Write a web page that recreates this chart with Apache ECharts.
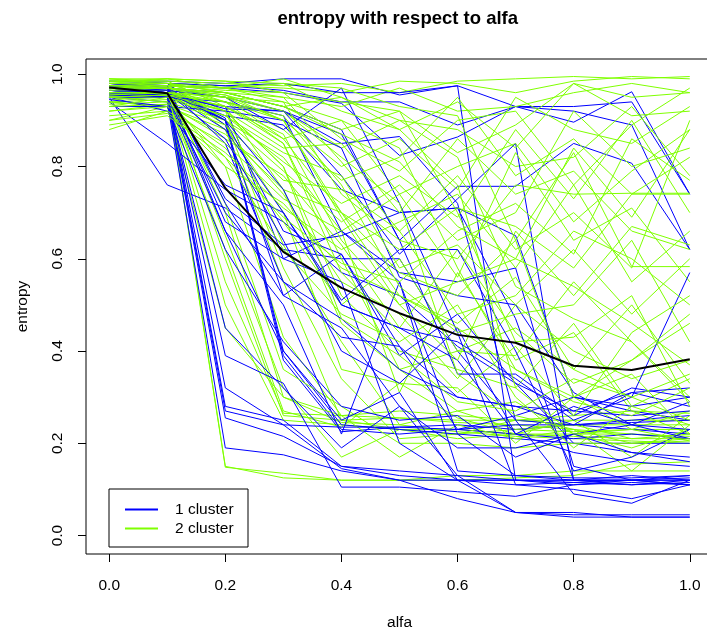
<!DOCTYPE html>
<html>
<head>
<meta charset="utf-8">
<script src="https://cdn.jsdelivr.net/npm/echarts@6/dist/echarts.min.js"></script>
<style>
html,body{margin:0;padding:0;background:#fff;}
#chart{width:707px;height:630px;}
</style>
</head>
<body>
<div id="chart"></div>
<script>
// ---- data ----
const alfa = [0.0, 0.1, 0.2, 0.3, 0.4, 0.5, 0.6, 0.7, 0.8, 0.9, 1.0];
const xTicks = [0, 0.2, 0.4, 0.6, 0.8, 1.0];
const yTicks = [0, 0.2, 0.4, 0.6, 0.8, 1.0];
const titleText = "entropy with respect to alfa";
const xName = "alfa";
const yName = "entropy";
const legendNames = ["1 cluster", "2 cluster"];

// entropy curves, cluster 1 (blue)
const cluster1 = [
  [0.985,0.985,0.98,0.99,0.99,0.955,0.975,0.93,0.93,0.94,0.74],
  [0.975,0.98,0.975,0.965,0.94,0.94,0.89,0.93,0.92,0.89,0.62],
  [0.97,0.975,0.97,0.96,0.937,0.824,0.864,0.93,0.896,0.962,0.74],
  [0.96,0.97,0.96,0.93,0.88,0.64,0.757,0.757,0.85,0.807,0.62],
  [0.97,0.96,0.91,0.89,0.75,0.70,0.71,0.65,0.30,0.27,0.25],
  [0.96,0.95,0.93,0.60,0.66,0.57,0.55,0.58,0.15,0.12,0.11],
  [0.95,0.76,0.71,0.62,0.60,0.60,0.40,0.25,0.24,0.23,0.22],
  [0.94,0.85,0.75,0.68,0.57,0.52,0.41,0.33,0.20,0.18,0.16],
  [0.98,0.97,0.905,0.39,0.23,0.22,0.23,0.22,0.21,0.22,0.21],
  [0.975,0.97,0.90,0.38,0.225,0.235,0.24,0.23,0.24,0.25,0.26],
  [0.97,0.965,0.90,0.40,0.24,0.23,0.22,0.21,0.20,0.20,0.20],
  [0.97,0.96,0.32,0.24,0.145,0.12,0.12,0.11,0.115,0.12,0.12],
  [0.96,0.96,0.28,0.25,0.15,0.14,0.13,0.12,0.12,0.12,0.13],
  [0.965,0.955,0.27,0.24,0.235,0.235,0.23,0.24,0.24,0.245,0.25],
  [0.955,0.95,0.255,0.215,0.15,0.13,0.12,0.12,0.115,0.11,0.115],
  [0.95,0.94,0.19,0.175,0.14,0.12,0.08,0.05,0.045,0.045,0.045],
  [0.96,0.955,0.39,0.33,0.105,0.105,0.095,0.085,0.11,0.12,0.125],
  [0.975,0.97,0.66,0.50,0.22,0.55,0.22,0.13,0.12,0.13,0.12],
  [0.97,0.965,0.68,0.60,0.55,0.20,0.12,0.12,0.12,0.12,0.11],
  [0.96,0.95,0.66,0.40,0.25,0.31,0.12,0.05,0.04,0.04,0.04],
  [0.98,0.975,0.72,0.52,0.45,0.28,0.13,0.05,0.05,0.04,0.04],
  [0.985,0.98,0.89,0.52,0.61,0.41,0.30,0.28,0.24,0.31,0.32],
  [0.975,0.97,0.85,0.55,0.43,0.41,0.23,0.26,0.30,0.28,0.30],
  [0.97,0.96,0.90,0.66,0.61,0.39,0.48,0.33,0.27,0.31,0.28],
  [0.965,0.96,0.88,0.70,0.50,0.45,0.38,0.22,0.28,0.24,0.21],
  [0.95,0.92,0.76,0.70,0.51,0.62,0.62,0.40,0.14,0.17,0.23],
  [0.97,0.97,0.73,0.63,0.65,0.70,0.71,0.47,0.12,0.12,0.12],
  [0.98,0.97,0.95,0.92,0.78,0.61,0.73,0.85,0.12,0.11,0.12],
  [0.98,0.98,0.975,0.98,0.96,0.96,0.975,0.12,0.11,0.115,0.11],
  [0.96,0.955,0.93,0.92,0.85,0.865,0.72,0.25,0.09,0.07,0.12],
  [0.95,0.95,0.94,0.91,0.66,0.55,0.14,0.13,0.125,0.125,0.13],
  [0.93,0.93,0.92,0.90,0.84,0.56,0.52,0.50,0.31,0.24,0.29],
  [0.97,0.965,0.95,0.88,0.97,0.72,0.44,0.11,0.10,0.08,0.11],
  [0.975,0.96,0.925,0.92,0.87,0.64,0.35,0.35,0.26,0.32,0.30],
  [0.945,0.93,0.62,0.42,0.28,0.25,0.26,0.17,0.22,0.18,0.17],
  [0.96,0.95,0.45,0.32,0.19,0.28,0.19,0.19,0.22,0.24,0.23],
  [0.97,0.96,0.90,0.75,0.50,0.45,0.42,0.34,0.25,0.30,0.57],
  [0.955,0.95,0.70,0.55,0.47,0.36,0.30,0.28,0.27,0.26,0.27],
  [0.965,0.96,0.86,0.64,0.40,0.33,0.45,0.22,0.18,0.16,0.15]
];

// entropy curves, cluster 2 (green)
const cluster2 = [
  [0.97,0.96,0.15,0.125,0.12,0.12,0.13,0.13,0.14,0.14,0.14],
  [0.96,0.955,0.148,0.135,0.12,0.12,0.12,0.125,0.13,0.155,0.16],
  [0.97,0.97,0.60,0.26,0.25,0.255,0.25,0.25,0.24,0.24,0.24],
  [0.96,0.96,0.55,0.265,0.26,0.27,0.26,0.25,0.25,0.25,0.25],
  [0.95,0.955,0.50,0.25,0.24,0.23,0.23,0.22,0.22,0.22,0.215],
  [0.98,0.975,0.70,0.30,0.245,0.24,0.225,0.215,0.21,0.205,0.20],
  [0.97,0.965,0.65,0.32,0.17,0.23,0.22,0.23,0.225,0.23,0.23],
  [0.96,0.95,0.80,0.43,0.26,0.255,0.245,0.24,0.23,0.22,0.21],
  [0.975,0.97,0.88,0.55,0.25,0.23,0.21,0.22,0.215,0.21,0.21],
  [0.99,0.98,0.90,0.58,0.34,0.21,0.22,0.25,0.26,0.27,0.265],
  [0.98,0.975,0.92,0.63,0.42,0.24,0.27,0.23,0.24,0.21,0.22],
  [0.965,0.96,0.72,0.36,0.28,0.20,0.20,0.19,0.20,0.20,0.205],
  [0.955,0.95,0.62,0.27,0.235,0.33,0.255,0.22,0.25,0.17,0.26],
  [0.94,0.93,0.45,0.30,0.26,0.17,0.24,0.21,0.23,0.14,0.24],
  [0.99,0.985,0.93,0.75,0.46,0.36,0.27,0.29,0.22,0.19,0.23],
  [0.97,0.97,0.89,0.70,0.36,0.33,0.32,0.20,0.30,0.23,0.27],
  [0.98,0.98,0.94,0.85,0.60,0.36,0.40,0.45,0.36,0.30,0.25],
  [0.965,0.96,0.92,0.80,0.52,0.40,0.36,0.32,0.46,0.28,0.34],
  [0.95,0.95,0.90,0.82,0.66,0.31,0.57,0.38,0.44,0.27,0.22],
  [0.94,0.93,0.88,0.74,0.55,0.48,0.34,0.50,0.40,0.34,0.38],
  [0.92,0.935,0.86,0.78,0.63,0.45,0.62,0.44,0.33,0.38,0.46],
  [0.90,0.93,0.84,0.68,0.50,0.60,0.40,0.39,0.55,0.42,0.30],
  [0.88,0.92,0.80,0.72,0.58,0.52,0.46,0.56,0.36,0.50,0.33],
  [0.985,0.985,0.98,0.975,0.98,0.96,0.985,0.99,0.995,0.99,0.995],
  [0.98,0.98,0.975,0.97,0.96,0.985,0.98,0.96,0.985,0.995,0.99],
  [0.975,0.975,0.97,0.95,0.93,0.97,0.92,0.93,0.96,0.98,0.96],
  [0.97,0.97,0.96,0.93,0.88,0.92,0.83,0.89,0.98,0.91,0.92],
  [0.965,0.97,0.955,0.92,0.84,0.90,0.88,0.80,0.82,0.93,0.78],
  [0.96,0.965,0.95,0.90,0.80,0.86,0.75,0.95,0.88,0.85,0.93],
  [0.955,0.96,0.94,0.88,0.77,0.82,0.95,0.78,0.86,0.74,0.74],
  [0.95,0.955,0.93,0.86,0.90,0.74,0.80,0.85,0.68,0.79,0.88],
  [0.945,0.95,0.92,0.84,0.85,0.70,0.86,0.74,0.79,0.66,0.62],
  [0.94,0.945,0.91,0.81,0.72,0.78,0.69,0.88,0.73,0.90,0.70],
  [0.935,0.94,0.90,0.79,0.68,0.76,0.64,0.70,0.92,0.80,0.84],
  [0.93,0.935,0.89,0.77,0.75,0.66,0.78,0.62,0.70,0.58,0.90],
  [0.92,0.93,0.87,0.75,0.70,0.62,0.71,0.67,0.58,0.74,0.82],
  [0.91,0.92,0.85,0.73,0.66,0.74,0.56,0.83,0.64,0.71,0.55],
  [0.90,0.915,0.83,0.71,0.62,0.68,0.74,0.58,0.76,0.55,0.66],
  [0.89,0.91,0.82,0.69,0.59,0.55,0.66,0.72,0.61,0.86,0.77],
  [0.98,0.99,0.97,0.98,0.92,0.88,0.94,0.84,0.98,0.95,0.96],
  [0.97,0.975,0.965,0.96,0.86,0.79,0.90,0.92,0.76,0.89,0.97],
  [0.96,0.96,0.95,0.94,0.74,0.64,0.60,0.76,0.74,0.742,0.742],
  [0.95,0.955,0.94,0.90,0.70,0.57,0.52,0.64,0.83,0.583,0.583],
  [0.975,0.98,0.96,0.95,0.81,0.66,0.48,0.52,0.66,0.60,0.50],
  [0.965,0.97,0.94,0.91,0.76,0.54,0.44,0.48,0.50,0.64,0.42],
  [0.955,0.96,0.93,0.87,0.64,0.50,0.55,0.60,0.54,0.46,0.37],
  [0.985,0.99,0.985,0.96,0.94,0.92,0.70,0.42,0.43,0.52,0.28],
  [0.98,0.98,0.97,0.94,0.90,0.84,0.58,0.36,0.30,0.35,0.22],
  [0.97,0.97,0.96,0.93,0.95,0.88,0.76,0.32,0.22,0.23,0.205],
  [0.96,0.96,0.95,0.92,0.82,0.72,0.35,0.26,0.23,0.20,0.21],
  [0.99,0.99,0.985,0.98,0.97,0.93,0.91,0.64,0.30,0.38,0.48],
  [0.975,0.975,0.97,0.99,0.95,0.90,0.82,0.54,0.47,0.42,0.29],
  [0.95,0.94,0.82,0.62,0.48,0.42,0.50,0.30,0.19,0.28,0.24],
  [0.93,0.95,0.91,0.83,0.78,0.58,0.63,0.50,0.62,0.48,0.60],
  [0.97,0.97,0.955,0.90,0.69,0.50,0.38,0.66,0.52,0.67,0.63],
  [0.985,0.98,0.96,0.93,0.87,0.81,0.67,0.60,0.84,0.69,0.88],
  [0.96,0.96,0.93,0.85,0.57,0.44,0.31,0.41,0.26,0.44,0.52],
  [0.95,0.955,0.92,0.80,0.47,0.39,0.29,0.27,0.34,0.30,0.35],
  [0.975,0.97,0.95,0.86,0.70,0.52,0.45,0.36,0.29,0.26,0.32]
];

// mean entropy (black)
const meanEntropy = [0.971, 0.959, 0.753, 0.615, 0.537, 0.482, 0.435, 0.418, 0.368, 0.359, 0.382];

// ---- chart ----
const BLUE = '#0000FF', GREEN = '#7FFF00';
const FONT = 'Liberation Sans, Arial, Helvetica, sans-serif';

function mkSeries(vals, color, width, name) {
  return {
    type: 'line', name: name,
    data: alfa.map((a, i) => [a, vals[i]]),
    showSymbol: false, symbol: 'none',
    lineStyle: { color: color, width: width },
    itemStyle: { color: color },
    silent: true, animation: false, z: 2
  };
}

const series = [];
const n = Math.max(cluster1.length, cluster2.length);
for (let i = 0; i < n; i++) {
  if (i < cluster2.length) series.push(mkSeries(cluster2[i], GREEN, 1, legendNames[1]));
  if (i < cluster1.length) series.push(mkSeries(cluster1[i], BLUE, 1, legendNames[0]));
}
const meanS = mkSeries(meanEntropy, '#000000', 2, 'mean');
meanS.z = 3;
series.push(meanS);

const chart = echarts.init(document.getElementById('chart'), null, { renderer: 'canvas' });
chart.setOption({
  backgroundColor: '#ffffff',
  animation: false,
  textStyle: { fontFamily: FONT },
  grid: {
    left: 86, top: 59, width: 627, height: 495,
    show: true, borderColor: '#000000', borderWidth: 1, backgroundColor: 'transparent',
    containLabel: false, outerBoundsMode: 'none'
  },
  xAxis: {
    type: 'value', min: -0.04, max: 1.04,
    name: xName, nameLocation: 'middle', nameGap: 61,
    nameTextStyle: { fontSize: 15.5, color: '#000', fontFamily: FONT },
    axisLine: { show: false, onZero: false },
    splitLine: { show: false },
    axisTick: { show: true, inside: false, customValues: xTicks, length: 8, lineStyle: { color: '#000' } },
    axisLabel: { customValues: xTicks, formatter: v => v.toFixed(1), fontSize: 15.5, color: '#000', margin: 24, fontFamily: FONT }
  },
  yAxis: {
    type: 'value', min: -0.04, max: 1.033,
    name: yName, nameLocation: 'middle', nameGap: 55, nameRotate: 90,
    nameTextStyle: { fontSize: 15.5, color: '#000', fontFamily: FONT },
    axisLine: { show: false, onZero: false },
    splitLine: { show: false },
    axisTick: { show: true, inside: false, customValues: yTicks, length: 8, lineStyle: { color: '#000' } },
    axisLabel: { customValues: yTicks, formatter: v => v.toFixed(1), fontSize: 15.5, color: '#000', margin: 20, rotate: 90, fontFamily: FONT }
  },
  graphic: [
    { type: 'text', left: 398.5 - 121, top: 9, z: 10,
      style: { text: titleText, font: 'bold 18.5px ' + FONT, fill: '#000' } },
    { type: 'rect', shape: { x: 109, y: 489, width: 139, height: 58 }, z: 10,
      style: { fill: '#fff', stroke: '#000', lineWidth: 1 } },
    { type: 'line', shape: { x1: 125, y1: 509.5, x2: 158, y2: 509.5 }, z: 11,
      style: { stroke: BLUE, lineWidth: 2 } },
    { type: 'line', shape: { x1: 125, y1: 528.5, x2: 158, y2: 528.5 }, z: 11,
      style: { stroke: GREEN, lineWidth: 2 } },
    { type: 'text', x: 175, y: 510, z: 11,
      style: { text: legendNames[0], font: '15.5px ' + FONT, fill: '#000', verticalAlign: 'middle' } },
    { type: 'text', x: 175, y: 529, z: 11,
      style: { text: legendNames[1], font: '15.5px ' + FONT, fill: '#000', verticalAlign: 'middle' } }
  ],
  series: series
});
</script>
</body>
</html>
